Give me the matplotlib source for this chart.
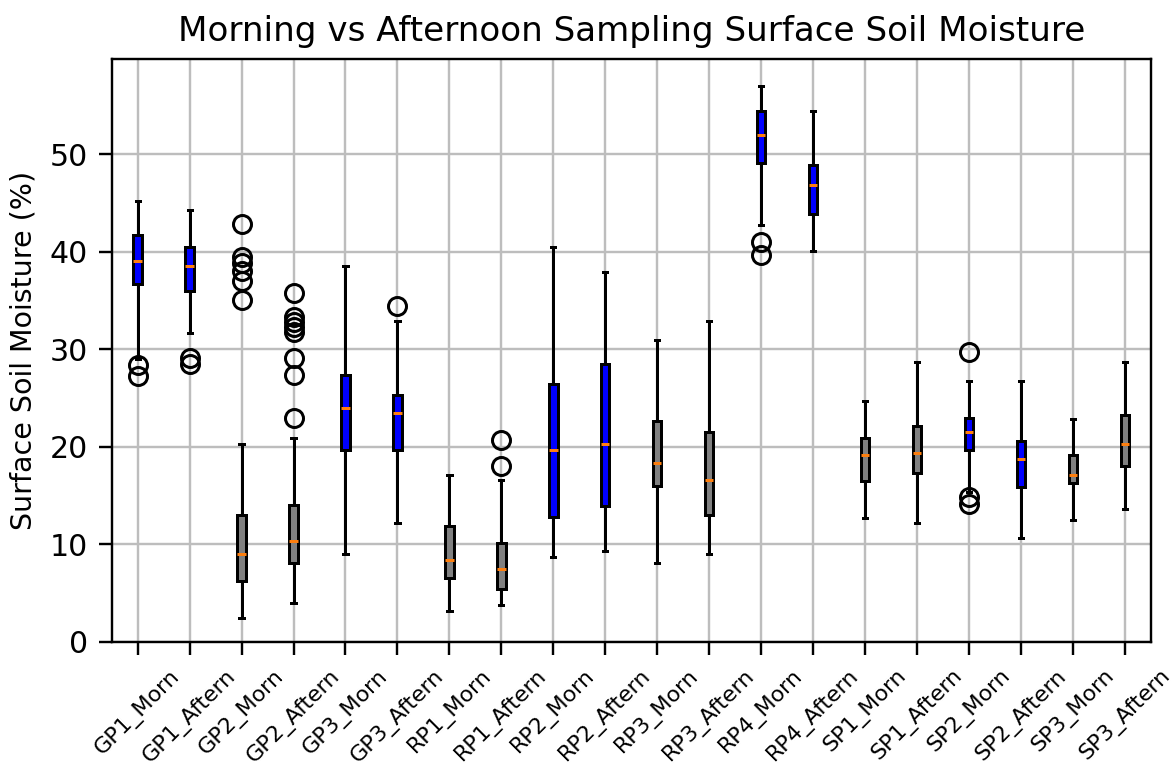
import matplotlib
matplotlib.use("Agg")
import matplotlib.pyplot as plt

labels = ["GP1_Morn", "GP1_Aftern", "GP2_Morn", "GP2_Aftern", "GP3_Morn", "GP3_Aftern",
          "RP1_Morn", "RP1_Aftern", "RP2_Morn", "RP2_Aftern", "RP3_Morn", "RP3_Aftern",
          "RP4_Morn", "RP4_Aftern", "SP1_Morn", "SP1_Aftern", "SP2_Morn", "SP2_Aftern",
          "SP3_Morn", "SP3_Aftern"]

# box statistics (%)
whislo = [29.0, 31.7, 2.5, 4.0, 9.0, 12.2, 3.2, 3.8, 8.7, 9.3,
          8.1, 9.0, 42.7, 40.1, 12.7, 12.2, 15.4, 10.7, 12.5, 13.6]
q1 = [36.7, 36.0, 6.3, 8.1, 19.7, 19.7, 6.6, 5.4, 12.8, 13.9,
      16.0, 13.0, 49.1, 43.9, 16.5, 17.3, 19.7, 15.9, 16.3, 18.0]
med = [39.0, 38.5, 9.0, 10.4, 24.0, 23.5, 8.4, 7.5, 19.7, 20.3,
       18.3, 16.6, 52.0, 46.8, 19.2, 19.4, 21.5, 18.8, 17.1, 20.3]
q3 = [41.7, 40.5, 13.0, 14.0, 27.4, 25.3, 11.9, 10.1, 26.4, 28.5,
      22.6, 21.5, 54.4, 48.9, 20.9, 22.1, 23.0, 20.6, 19.2, 23.3]
whishi = [45.2, 44.3, 20.3, 20.9, 38.5, 32.9, 17.1, 16.6, 40.5, 37.9,
          30.9, 32.9, 57.0, 54.4, 24.7, 28.7, 26.7, 26.8, 22.9, 28.7]
fliers = [[28.4, 27.3], [29.1, 28.5], [42.8, 39.5, 38.8, 38.0, 37.0, 35.0],
          [35.8, 33.3, 32.8, 32.3, 31.8, 29.1, 27.4, 23.0], [], [34.4],
          [], [20.7, 18.0], [], [], [], [], [41.0, 39.7], [], [], [],
          [29.7, 14.9, 14.1], [], [], []]
box_colors = ["blue", "blue", "gray", "gray", "blue", "blue", "gray", "gray", "blue", "blue",
              "gray", "gray", "blue", "blue", "gray", "gray", "blue", "blue", "gray", "gray"]

stats = []
for i in range(len(labels)):
    stats.append({"label": labels[i], "whislo": whislo[i], "q1": q1[i], "med": med[i],
                  "q3": q3[i], "whishi": whishi[i], "fliers": fliers[i]})

fig = plt.figure(figsize=(1174 / 216, 765 / 216), dpi=216)
ax = fig.add_axes([0.0951, 0.1608, 0.8853, 0.7627])
bp = ax.bxp(stats, widths=0.16, patch_artist=True)
for patch, color in zip(bp["boxes"], box_colors):
    patch.set_facecolor(color)
ax.grid(True, color="#bdbdbd")
ax.set_axisbelow(True)
ax.set_ylim(0, 59.8)
ax.set_xlim(0.5, 20.5)
ax.tick_params(length=4.3)
ax.tick_params(axis="x", labelrotation=45, labelsize=7.4)
ax.set_ylabel("Surface Soil Moisture (%)", fontsize=9.5)
ax.set_title("Morning vs Afternoon Sampling Surface Soil Moisture", fontsize=11.4)
fig.savefig("out.png", dpi=216)
